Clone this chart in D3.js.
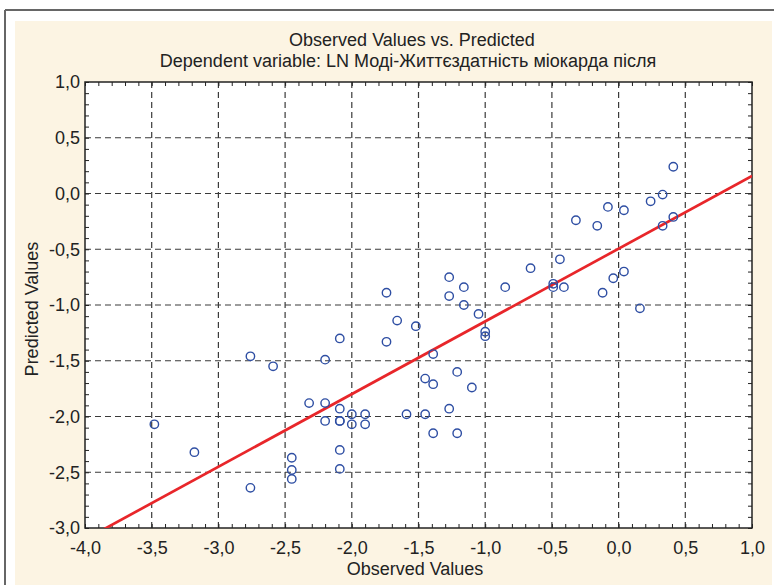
<!DOCTYPE html>
<html>
<head>
<meta charset="utf-8">
<script src="https://cdn.jsdelivr.net/npm/d3@7"></script>
<style>
  body { margin: 0; background: #fff; }
  text { font-family: "Liberation Sans", Arial, sans-serif; fill: #222; }
</style>
</head>
<body>
<svg id="chart" width="774" height="585"></svg>
<script>
// Observed (x) and predicted (y) values
const observed = [
  -3.48, -3.18, -2.76, -2.76, -2.59, -2.45, -2.45, -2.45, -2.32, -2.20,
  -2.20, -2.20, -2.09, -2.09, -2.09, -2.09, -2.09, -2.09, -2.00, -2.00,
  -1.90, -1.90, -1.74, -1.74, -1.66, -1.59, -1.52, -1.45, -1.45, -1.39,
  -1.39, -1.39, -1.27, -1.27, -1.27, -1.21, -1.21, -1.16, -1.16, -1.10,
  -1.05, -1.00, -1.00, -0.85, -0.66, -0.49, -0.49, -0.44, -0.41, -0.32,
  -0.16, -0.12, -0.08, -0.04, 0.04, 0.04, 0.16, 0.24, 0.33, 0.33,
  0.41, 0.41
];
const predicted = [
  -2.07, -2.32, -1.46, -2.64, -1.55, -2.37, -2.48, -2.56, -1.88, -1.49,
  -1.88, -2.04, -1.30, -1.93, -2.04, -2.04, -2.30, -2.47, -1.98, -2.07,
  -1.98, -2.07, -0.89, -1.33, -1.14, -1.98, -1.19, -1.66, -1.98, -1.44,
  -1.71, -2.15, -0.75, -0.92, -1.93, -1.60, -2.15, -0.84, -1.00, -1.74,
  -1.08, -1.24, -1.28, -0.84, -0.67, -0.81, -0.84, -0.59, -0.84, -0.24,
  -0.29, -0.89, -0.12, -0.76, -0.15, -0.70, -1.03, -0.07, -0.01, -0.29,
  -0.21, 0.24
];
// fitted line: predicted = intercept + slope * observed
const intercept = -0.495;
const slope = 0.652;

const xTicks = [-4.0, -3.5, -3.0, -2.5, -2.0, -1.5, -1.0, -0.5, 0.0, 0.5, 1.0];
const yTicks = [-3.0, -2.5, -2.0, -1.5, -1.0, -0.5, 0.0, 0.5, 1.0];

const title1 = "Observed Values vs. Predicted";
const title2 = "Dependent variable: LN Моді-Життєздатність міокарда після";
const xTitle = "Observed Values";
const yTitle = "Predicted Values";

const svg = d3.select("#chart");
const margin = { left: 85, right: 22, top: 82, bottom: 57 };
const width = 774 - margin.left - margin.right;
const height = 585 - margin.top - margin.bottom;

// Background frame
svg.append("rect").attr("x", 15).attr("y", 21).attr("width", 757).attr("height", 564).attr("fill", "#fcf4e3");
svg.append("line").attr("x1", 5).attr("y1", 10).attr("x2", 774).attr("y2", 10)
  .attr("stroke", "#666").attr("stroke-width", 2);
svg.append("line").attr("x1", 5).attr("y1", 10).attr("x2", 5).attr("y2", 585)
  .attr("stroke", "#666").attr("stroke-width", 2);

const g = svg.append("g").attr("transform", `translate(${margin.left},${margin.top})`);
g.append("rect").attr("width", width).attr("height", height).attr("fill", "#fff");

const x = d3.scaleLinear().domain([-4, 1]).range([0, width]);
const y = d3.scaleLinear().domain([-3, 1]).range([height, 0]);

const loc = d3.formatLocale({ decimal: ",", thousands: " ", grouping: [3], currency: ["", ""], minus: "-" });
const fmt = loc.format(".1f");

// Gridlines
g.append("g").selectAll("line").data(xTicks.slice(1, -1)).enter().append("line")
  .attr("x1", d => x(d)).attr("x2", d => x(d)).attr("y1", 0).attr("y2", height)
  .attr("stroke", "#3a3a3a").attr("stroke-width", 1.2).attr("stroke-dasharray", "6,4");
g.append("g").selectAll("line").data(yTicks.slice(1, -1)).enter().append("line")
  .attr("y1", d => y(d)).attr("y2", d => y(d)).attr("x1", 0).attr("x2", width)
  .attr("stroke", "#3a3a3a").attr("stroke-width", 1.2).attr("stroke-dasharray", "6,4");

// Minor ticks on all sides, pointing inward
const xMinor = d3.range(-40, 11).map(d => d / 10);
const yMinor = d3.range(-30, 11).map(d => d / 10);
function minor(axis, vals) { return axis.tickValues(vals).tickSize(-4).tickFormat("").tickSizeOuter(0); }
g.append("g").attr("class", "minor").attr("transform", `translate(0,${height})`).call(minor(d3.axisBottom(x), xMinor));
g.append("g").attr("class", "minor").call(minor(d3.axisTop(x), xMinor));
g.append("g").attr("class", "minor").call(minor(d3.axisLeft(y), yMinor));
g.append("g").attr("class", "minor").attr("transform", `translate(${width},0)`).call(minor(d3.axisRight(y), yMinor));
g.selectAll(".minor path").remove();
g.selectAll(".minor line").attr("stroke", "#222");

// Labelled axes
const xAxis = g.append("g").attr("transform", `translate(0,${height})`)
  .call(d3.axisBottom(x).tickValues(xTicks).tickFormat(fmt).tickSize(0).tickPadding(13));
const yAxis = g.append("g")
  .call(d3.axisLeft(y).tickValues(yTicks).tickFormat(fmt).tickSize(0).tickPadding(5));
[xAxis, yAxis].forEach(a => {
  a.select(".domain").remove();
  a.selectAll("text").style("font-size", "18px").attr("fill", "#222")
    .style("font-family", "'Liberation Sans', Arial, sans-serif");
});

// Plot frame
g.append("rect").attr("width", width).attr("height", height)
  .attr("fill", "none").attr("stroke", "#222").attr("stroke-width", 1.5);

// Regression line, clipped to plot
g.append("clipPath").attr("id", "clip").append("rect").attr("width", width).attr("height", height);
const xs = [-4, 1];
g.append("path")
  .datum(xs.map(v => ({ x: v, y: intercept + slope * v })))
  .attr("clip-path", "url(#clip)")
  .attr("fill", "none").attr("stroke", "#e8262a").attr("stroke-width", 2.7)
  .attr("d", d3.line().x(d => x(d.x)).y(d => y(d.y)));

// Points
g.append("g").selectAll("circle").data(observed.map((v, i) => ({ x: v, y: predicted[i] })))
  .enter().append("circle")
  .attr("cx", d => x(d.x)).attr("cy", d => y(d.y)).attr("r", 4.2)
  .attr("fill", "none").attr("stroke", "#2e4ea3").attr("stroke-width", 1.4);

// Titles
svg.append("text").attr("x", 412).attr("y", 46).attr("text-anchor", "middle")
  .style("font-size", "18px").text(title1);
svg.append("text").attr("x", 408).attr("y", 67).attr("text-anchor", "middle")
  .style("font-size", "18px").text(title2);
svg.append("text").attr("x", 415).attr("y", 575).attr("text-anchor", "middle")
  .style("font-size", "18px").text(xTitle);
svg.append("text").attr("transform", "rotate(-90)").attr("x", -309).attr("y", 38)
  .attr("text-anchor", "middle").style("font-size", "18px").text(yTitle);
</script>
</body>
</html>
